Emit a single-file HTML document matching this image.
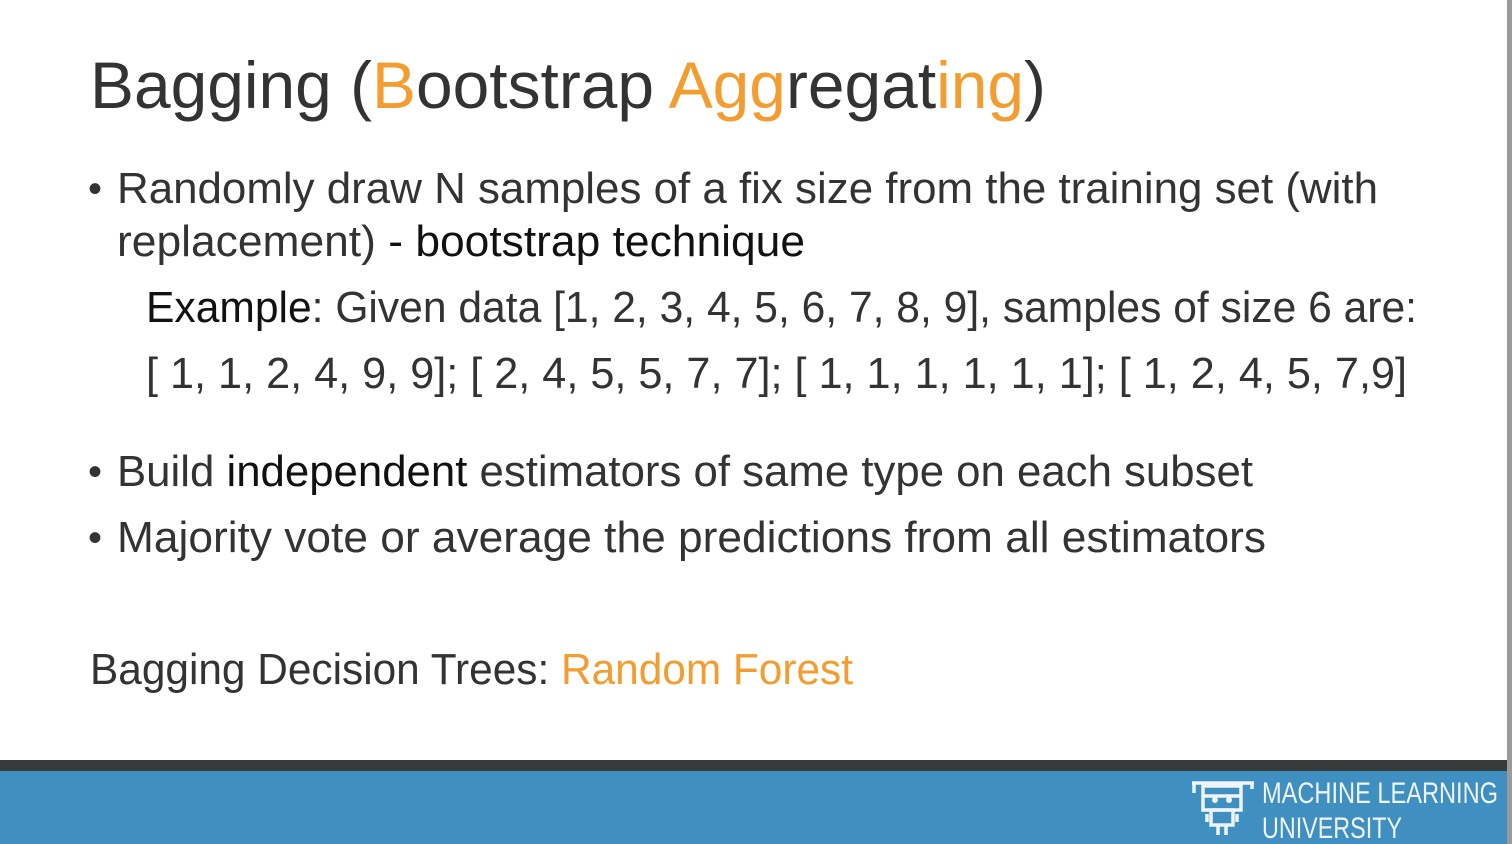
<!DOCTYPE html>
<html><head><meta charset="utf-8"><style>
html,body{margin:0;padding:0;width:1512px;height:844px;overflow:hidden;background:#fff}
svg{display:block}
text{font-family:"Liberation Sans",sans-serif}
</style></head><body>
<svg width="1512" height="844" viewBox="0 0 1512 844">
<rect x="0" y="0" width="1512" height="844" fill="#fff"/>
<rect x="1507" y="0" width="5" height="844" fill="#9a9a9a"/>
<g fill="#333">
<text x="90" y="108" font-size="66" textLength="956" lengthAdjust="spacingAndGlyphs">Bagging (<tspan fill="#f39c2f">B</tspan>ootstrap <tspan fill="#f39c2f">Agg</tspan>regat<tspan fill="#f39c2f">ing</tspan>)</text>
<text x="88" y="202" font-size="40">•</text>
<text x="117" y="203" font-size="44" textLength="1261" lengthAdjust="spacingAndGlyphs">Randomly draw N samples of a fix size from the training set (with</text>
<text x="117" y="256" font-size="44" textLength="688" lengthAdjust="spacingAndGlyphs">replacement) <tspan fill="#111">- bootstrap technique</tspan></text>
<text x="146" y="322" font-size="44" textLength="1271" lengthAdjust="spacingAndGlyphs"><tspan fill="#111">Example</tspan>: Given data [1, 2, 3, 4, 5, 6, 7, 8, 9], samples of size 6 are:</text>
<text x="146" y="388" font-size="44" textLength="1261" lengthAdjust="spacingAndGlyphs">[ 1, 1, 2, 4, 9, 9]; [ 2, 4, 5, 5, 7, 7]; [ 1, 1, 1, 1, 1, 1]; [ 1, 2, 4, 5, 7,9]</text>
<text x="88" y="485" font-size="40">•</text>
<text x="117" y="486" font-size="44" textLength="1136" lengthAdjust="spacingAndGlyphs">Build <tspan fill="#111">independent</tspan> estimators of same type on each subset</text>
<text x="88" y="551" font-size="40">•</text>
<text x="117" y="552" font-size="44" textLength="1149" lengthAdjust="spacingAndGlyphs">Majority vote or average the predictions from all estimators</text>
<text x="90" y="684" font-size="44" textLength="763" lengthAdjust="spacingAndGlyphs">Bagging Decision Trees: <tspan fill="#f39c2f">Random Forest</tspan></text>
</g>
<rect x="0" y="760" width="1507" height="11" fill="#373b3b"/>
<rect x="0" y="771" width="1507" height="73" fill="#3f8fc0"/>
<g stroke="#eef4f8" stroke-width="3.5" fill="none">
<line x1="1192" y1="783" x2="1254" y2="783"/>
<line x1="1194" y1="783" x2="1194" y2="793"/>
<line x1="1252" y1="783" x2="1252" y2="789"/>
<rect x="1203" y="786" width="38" height="24"/>
<line x1="1203" y1="796" x2="1241" y2="796"/>
<rect x="1211" y="810" width="22" height="15"/>
<line x1="1218" y1="825" x2="1218" y2="835"/>
<line x1="1226" y1="825" x2="1226" y2="835"/>
<line x1="1207" y1="814" x2="1207" y2="822"/>
<line x1="1237" y1="814" x2="1237" y2="822"/>
</g>
<circle cx="1215" cy="800" r="3" fill="#eef4f8"/>
<circle cx="1229" cy="800" r="3" fill="#eef4f8"/>
<text x="1262" y="803" font-size="30" fill="#eef4f8" textLength="236" lengthAdjust="spacingAndGlyphs">MACHINE LEARNING</text>
<text x="1262" y="838" font-size="30" fill="#eef4f8" textLength="140" lengthAdjust="spacingAndGlyphs">UNIVERSITY</text>
</svg>
</body></html>
